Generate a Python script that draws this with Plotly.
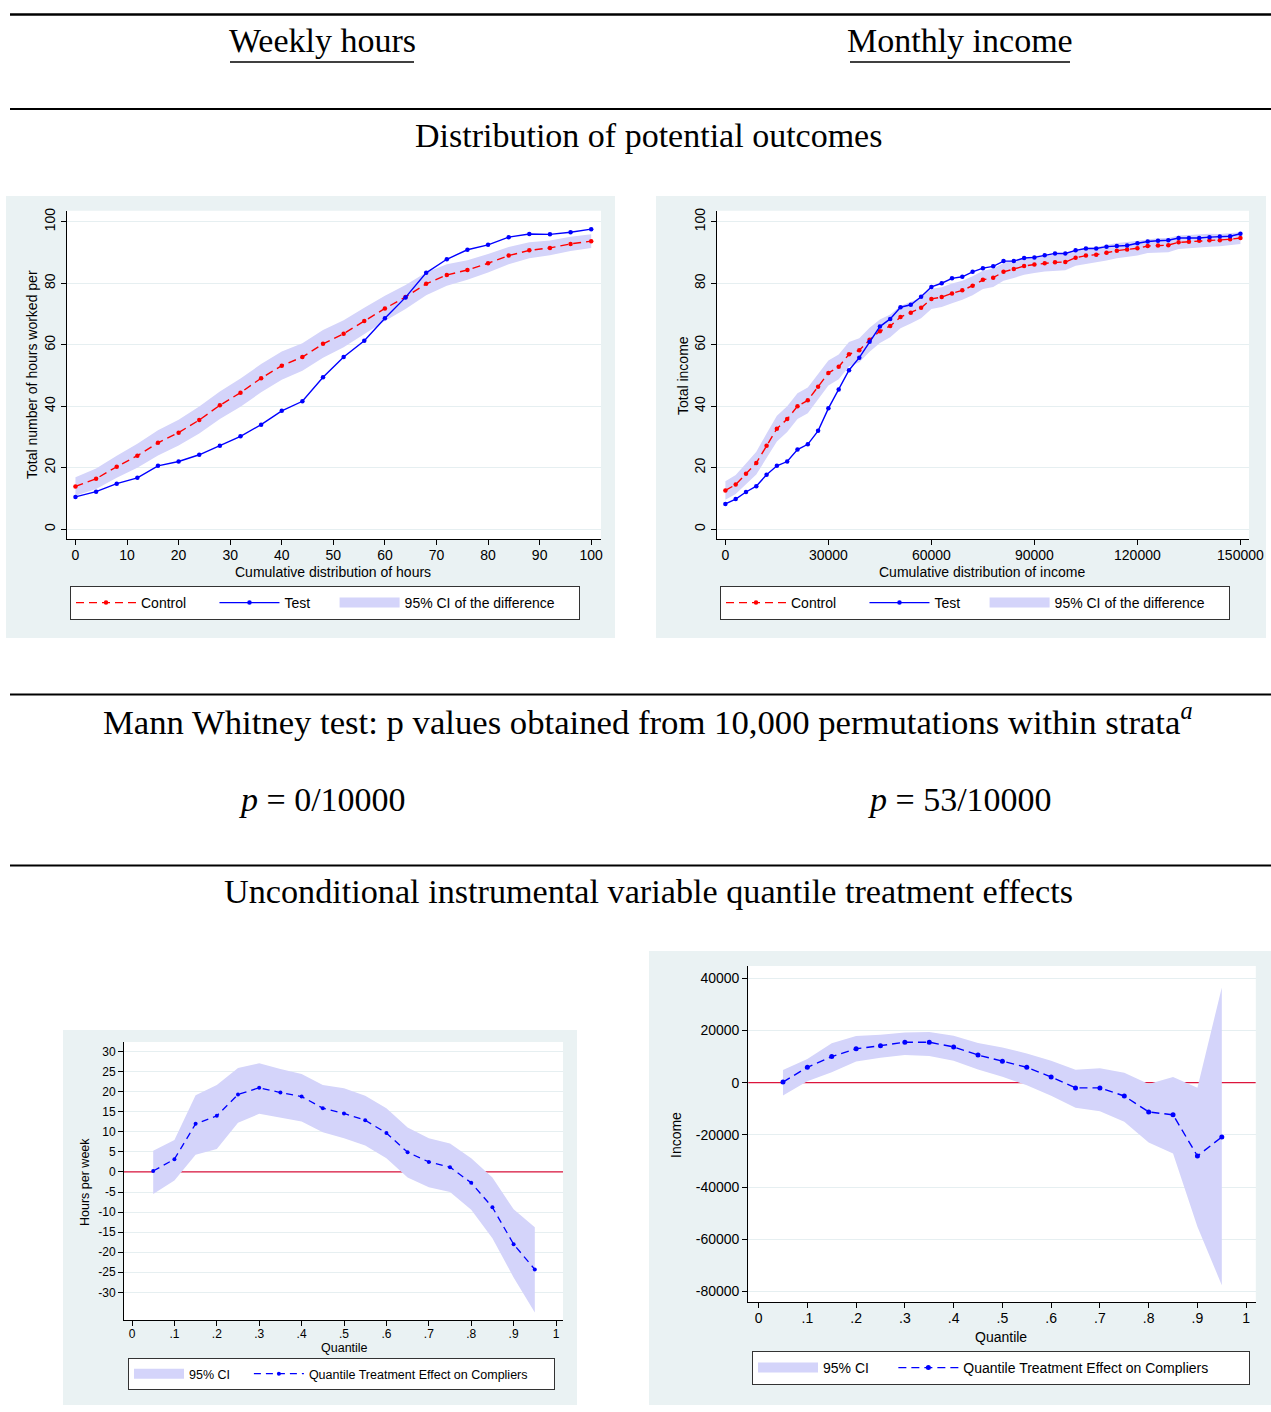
import plotly.graph_objects as go

RW, H = 1271, 1412      # reference layout size (pixel coordinates below refer to it)
W = 1286                # page width: the capture is 15px wider than the visible figure area

# ---------------- DATA ----------------
hours_x = [0, 4, 8, 12, 16, 20, 24, 28, 32, 36, 40, 44, 48, 52, 56, 60, 64, 68, 72, 76, 80, 84, 88, 92, 96, 100]
hours_control = [13.9, 16.4, 20.3, 23.9, 28.1, 31.4, 35.5, 40.3, 44.4, 49.1, 53.2, 56.0, 60.3, 63.6, 67.7, 71.8,
                 75.5, 79.8, 82.7, 84.3, 86.5, 89.0, 90.7, 91.5, 92.8, 93.7]
hours_test = [10.5, 12.2, 14.8, 16.7, 20.6, 22.0, 24.2, 27.1, 30.2, 34.0, 38.5, 41.6, 49.4, 56.0, 61.3, 68.6,
              75.4, 83.4, 87.8, 90.9, 92.5, 95.0, 96.0, 95.9, 96.6, 97.6]
hours_ci_lo = [10.9, 13.1, 16.7, 20.0, 24.0, 27.2, 31.1, 35.8, 39.8, 44.5, 48.6, 51.5, 55.8, 59.2, 63.4, 67.7,
               71.6, 76.1, 79.2, 81.1, 83.5, 86.2, 88.1, 89.1, 90.5, 91.5]
hours_ci_hi = [16.9, 19.7, 23.9, 27.8, 32.2, 35.6, 39.9, 44.8, 49.0, 53.7, 57.8, 60.5, 64.8, 68.0, 72.0, 75.9,
               79.4, 83.5, 86.2, 87.5, 89.5, 91.8, 93.3, 93.9, 95.1, 95.9]

income_x = [0, 3000, 6000, 9000, 12000, 15000, 18000, 21000, 24000, 27000, 30000, 33000, 36000, 39000, 42000,
            45000, 48000, 51000, 54000, 57000, 60000, 63000, 66000, 69000, 72000, 75000, 78000, 81000, 84000,
            87000, 90000, 93000, 96000, 99000, 102000, 105000, 108000, 111000, 114000, 117000, 120000, 123000,
            126000, 129000, 132000, 135000, 138000, 141000, 144000, 147000, 150000]
income_control = [12.6, 14.5, 18.0, 21.5, 27.1, 32.7, 35.8, 40.0, 41.9, 46.3, 50.8, 52.8, 56.9, 58.2, 61.6,
                  64.4, 66.1, 69.0, 70.4, 72.0, 74.9, 75.5, 76.7, 77.7, 79.2, 81.1, 81.8, 83.7, 84.6, 85.6,
                  86.1, 86.5, 86.8, 86.9, 88.3, 89.0, 89.3, 89.9, 90.6, 91.0, 91.4, 92.1, 92.3, 92.4, 93.3,
                  93.5, 93.8, 94.0, 94.0, 94.3, 94.7]
income_test = [8.2, 9.8, 12.1, 14.0, 17.7, 20.6, 22.0, 25.9, 27.6, 32.0, 39.3, 45.4, 51.7, 55.8, 61.0,
               65.9, 68.4, 72.2, 73.0, 75.6, 78.8, 80.0, 81.6, 82.1, 83.7, 84.9, 85.5, 87.2, 87.2, 88.2,
               88.4, 89.1, 89.7, 89.7, 90.7, 91.3, 91.3, 91.9, 92.1, 92.3, 93.0, 93.6, 93.8, 94.0, 94.7,
               94.7, 94.7, 95.0, 95.2, 95.3, 96.1]
income_ci_half = [3.0, 3.1, 3.4, 3.7, 4.0, 4.2, 4.2, 4.2, 4.2, 4.2, 4.1, 4.0, 4.0, 3.9, 3.9,
                  3.8, 3.7, 3.6, 3.5, 3.4, 3.3, 3.2, 3.2, 3.1, 3.1, 3.0, 3.0, 2.9, 2.9, 2.8,
                  2.8, 2.7, 2.7, 2.7, 2.6, 2.6, 2.5, 2.5, 2.5, 2.4, 2.4, 2.3, 2.3, 2.3, 2.2,
                  2.2, 2.1, 2.1, 2.0, 2.0, 1.9]

quantiles = [0.05, 0.10, 0.15, 0.20, 0.25, 0.30, 0.35, 0.40, 0.45, 0.50, 0.55, 0.60, 0.65, 0.70, 0.75, 0.80,
             0.85, 0.90, 0.95]
qte_hours = [0.25, 3.2, 12.0, 14.0, 19.3, 21.0, 19.8, 18.8, 15.9, 14.6, 12.9, 9.7, 4.9, 2.5, 1.2, -2.7, -8.8,
             -18.0, -24.3]
qte_hours_hi = [5.3, 8.0, 19.1, 21.7, 25.9, 27.1, 25.7, 24.4, 21.7, 20.9, 19.0, 15.9, 11.1, 8.4, 7.1, 3.4, -1.4,
                -9.3, -13.8]
qte_hours_lo = [-5.5, -2.1, 4.3, 5.7, 12.3, 14.5, 13.6, 12.6, 9.9, 8.4, 6.6, 3.4, -1.4, -3.8, -5.0, -9.4, -16.5,
                -26.3, -35.0]

qte_income = [250, 5900, 10000, 13000, 14200, 15500, 15500, 13700, 10600, 8200, 5900, 2200, -2000, -2000,
              -5100, -11200, -12300, -28100, -20800]
qte_income_hi = [4900, 9100, 15100, 17900, 18400, 19200, 19400, 18000, 15200, 13500, 11200, 8400, 5000, 5500,
                 3800, -500, 2200, -1900, 36500]
qte_income_lo = [-4900, 600, 4000, 8100, 9600, 10600, 10200, 8400, 5100, 2300, -1000, -5000, -9600, -10900,
                 -15000, -22900, -27100, -55200, -77600]

hours_xticks = [0, 10, 20, 30, 40, 50, 60, 70, 80, 90, 100]
income_xticks = [0, 30000, 60000, 90000, 120000, 150000]
top_yticks = [0, 20, 40, 60, 80, 100]
q_ticks = [0, 0.1, 0.2, 0.3, 0.4, 0.5, 0.6, 0.7, 0.8, 0.9, 1]
q_ticklabels = ["0", ".1", ".2", ".3", ".4", ".5", ".6", ".7", ".8", ".9", "1"]
qh_yticks = [30, 25, 20, 15, 10, 5, 0, -5, -10, -15, -20, -25, -30]
qi_yticks = [40000, 20000, 0, -20000, -40000, -60000, -80000]

# ---------------- STYLE ----------------
RED = "#FF0000"
BLUE = "#0000FF"
BAND = "#D4D4FA"
ZERO = "#DC143C"
BG = "#EAF2F3"
GRID = "#E6EFF1"
SANS = "Liberation Sans"
SERIF = "Liberation Serif"
NB = "\u00a0"


def fx(px):
    return px / RW


def fy(py):
    return 1 - py / H


fig = go.Figure()


def band(xs, lo, hi, xa, ya):
    fig.add_trace(go.Scatter(
        x=list(xs) + list(xs)[::-1], y=list(hi) + list(lo)[::-1],
        fill="toself", fillcolor=BAND, line=dict(width=0, color=BAND), mode="lines",
        xaxis=xa, yaxis=ya, showlegend=False, hoverinfo="skip"))


def band_key(name, xa, ya, leg, rank):
    fig.add_trace(go.Scatter(x=[None], y=[None], mode="lines", line=dict(color=BAND, width=16),
                             name=name, xaxis=xa, yaxis=ya, legend=leg, legendrank=rank))


# Panel 1: hours distribution
band(hours_x, hours_ci_lo, hours_ci_hi, "x", "y")
fig.add_trace(go.Scatter(x=hours_x, y=hours_control, mode="lines+markers", name="Control" + NB * 6,
                         line=dict(color=RED, width=1.4, dash="8px,5px"), marker=dict(color=RED, size=4.5),
                         xaxis="x", yaxis="y", legend="legend", legendrank=1))
fig.add_trace(go.Scatter(x=hours_x, y=hours_test, mode="lines+markers", name="Test" + NB * 5,
                         line=dict(color=BLUE, width=1.4), marker=dict(color=BLUE, size=4.5),
                         xaxis="x", yaxis="y", legend="legend", legendrank=2))
band_key("95% CI of the difference" + NB * 5, "x", "y", "legend", 3)

# Panel 2: income distribution
inc_lo = [c - h for c, h in zip(income_control, income_ci_half)]
inc_hi = [c + h for c, h in zip(income_control, income_ci_half)]
band(income_x, inc_lo, inc_hi, "x2", "y2")
fig.add_trace(go.Scatter(x=income_x, y=income_control, mode="lines+markers", name="Control" + NB * 6,
                         line=dict(color=RED, width=1.4, dash="8px,5px"), marker=dict(color=RED, size=4.5),
                         xaxis="x2", yaxis="y2", legend="legend2", legendrank=1))
fig.add_trace(go.Scatter(x=income_x, y=income_test, mode="lines+markers", name="Test" + NB * 5,
                         line=dict(color=BLUE, width=1.4), marker=dict(color=BLUE, size=4.5),
                         xaxis="x2", yaxis="y2", legend="legend2", legendrank=2))
band_key("95% CI of the difference" + NB * 5, "x2", "y2", "legend2", 3)

# Panel 3: QTE hours
fig.add_trace(go.Scatter(x=[-0.0189, 1.0165], y=[0, 0], mode="lines", line=dict(color=ZERO, width=1.3),
                         xaxis="x3", yaxis="y3", showlegend=False, hoverinfo="skip"))
band(quantiles, qte_hours_lo, qte_hours_hi, "x3", "y3")
band_key("95% CI" + NB * 4, "x3", "y3", "legend3", 1)
fig.add_trace(go.Scatter(x=quantiles, y=qte_hours, mode="lines+markers",
                         name="Quantile Treatment Effect on Compliers" + NB * 6,
                         line=dict(color=BLUE, width=1.3, dash="7px,5px"), marker=dict(color=BLUE, size=4),
                         xaxis="x3", yaxis="y3", legend="legend3", legendrank=2))

# Panel 4: QTE income
fig.add_trace(go.Scatter(x=[-0.0213, 1.0197], y=[0, 0], mode="lines", line=dict(color=ZERO, width=1.3),
                         xaxis="x4", yaxis="y4", showlegend=False, hoverinfo="skip"))
band(quantiles, qte_income_lo, qte_income_hi, "x4", "y4")
band_key("95% CI" + NB * 5, "x4", "y4", "legend4", 1)
fig.add_trace(go.Scatter(x=quantiles, y=qte_income, mode="lines+markers",
                         name="Quantile Treatment Effect on Compliers" + NB * 9,
                         line=dict(color=BLUE, width=1.4, dash="8px,5px"), marker=dict(color=BLUE, size=5),
                         xaxis="x4", yaxis="y4", legend="legend4", legendrank=2))


def xax(l, r, rng, ticks, labels, size, anchor, stand):
    return dict(domain=[fx(l), fx(r)], range=rng, tickmode="array", tickvals=ticks, ticktext=labels,
                showgrid=False, zeroline=False, showline=True, linecolor="#000", linewidth=1,
                ticks="outside", ticklen=5, tickcolor="#000", tickfont=dict(family=SANS, size=size, color="#000"),
                ticklabelstandoff=stand, anchor=anchor, fixedrange=True)


def yax(t, b, rng, ticks, labels, size, anchor, angle):
    return dict(domain=[fy(b), fy(t)], range=rng, tickmode="array", tickvals=ticks, ticktext=labels,
                showgrid=True, gridcolor=GRID, gridwidth=1, zeroline=False, showline=True, linecolor="#000",
                linewidth=1, ticks="outside", ticklen=5, tickcolor="#000", tickangle=angle,
                tickfont=dict(family=SANS, size=size, color="#000"), anchor=anchor, fixedrange=True)


fig.update_layout(
    xaxis=xax(66.7, 601, [-1.7, 101.9], hours_xticks, [str(v) for v in hours_xticks], 14, "y", -2),
    yaxis=yax(210.7, 539, [-3.2, 103.6], top_yticks, [str(v) for v in top_yticks], 14, "x", -90),
    xaxis2=xax(716.7, 1249, [-2530, 152500], income_xticks, [str(v) for v in income_xticks], 14, "y2", -2),
    yaxis2=yax(210.7, 539, [-3.2, 103.6], top_yticks, [str(v) for v in top_yticks], 14, "x2", -90),
    xaxis3=xax(124, 563, [-0.0189, 1.0165], q_ticks, q_ticklabels, 12, "y3", -2),
    yaxis3=yax(1042, 1320, [-36.9, 32.4], qh_yticks, [str(v) for v in qh_yticks], 12, "x3", 0),
    xaxis4=xax(748.2, 1255.8, [-0.0213, 1.0197], q_ticks, q_ticklabels, 14, "y4", -2),
    yaxis4=yax(966, 1302.3, [-84140, 44710], qi_yticks, [str(v) for v in qi_yticks], 14, "x4", 0),
)


def leg(lx, cy, size, iw):
    return dict(x=fx(lx), y=fy(cy), xanchor="left", yanchor="middle", orientation="h",
                bgcolor="white", bordercolor="#333", borderwidth=1, itemwidth=iw,
                font=dict(family=SANS, size=size, color="#000"), traceorder="normal", itemclick=False,
                itemdoubleclick=False)


fig.update_layout(
    legend=leg(70, 603, 14, 60),
    legend2=leg(720, 603, 14, 60),
    legend3=leg(128, 1374, 12.5, 50),
    legend4=leg(752, 1368, 14, 60),
)

shapes = []
# panel backgrounds
for (l, t, r, b), (pl, pt, pr, pb) in [
    ((6, 196, 615, 638), (66.7, 210.7, 601, 539)),
    ((656, 196, 1266, 638), (716.7, 210.7, 1249, 539)),
    ((63, 1030, 577, 1405), (124, 1042, 563, 1320)),
    ((649, 951, 1271, 1405), (748.2, 966, 1255.8, 1302.3)),
]:
    shapes.append(dict(type="rect", xref="paper", yref="paper", x0=fx(l), x1=fx(r), y0=fy(b), y1=fy(t),
                       fillcolor=BG, line=dict(width=0), layer="below"))
    shapes.append(dict(type="rect", xref="paper", yref="paper", x0=fx(pl), x1=fx(pr), y0=fy(pb), y1=fy(pt),
                       fillcolor="white", line=dict(width=0), layer="below"))
# horizontal rules
for py, wdt in [(14.5, 2.6), (109, 2), (694.5, 2), (865.5, 2)]:
    shapes.append(dict(type="line", xref="paper", yref="paper", x0=fx(10), x1=1, y0=fy(py), y1=fy(py),
                       line=dict(color="#000", width=wdt)))
# underlines
for l, r in [(230, 414), (850, 1070)]:
    shapes.append(dict(type="line", xref="paper", yref="paper", x0=fx(l), x1=fx(r), y0=fy(62), y1=fy(62),
                       line=dict(color="#000", width=1.5)))
fig.update_layout(shapes=shapes)

ann = []


def text(s, cx, cy, size, family, angle=0):
    ann.append(dict(text=s, x=fx(cx), y=fy(cy), xref="paper", yref="paper", showarrow=False,
                    xanchor="center", yanchor="middle", textangle=angle,
                    font=dict(family=family, size=size, color="#000")))


text("Weekly hours", 322, 41, 34, SERIF)
text("Monthly income", 960, 41, 34, SERIF)
text("Distribution of potential outcomes", 648, 135, 34, SERIF)
text("Mann Whitney test: p values obtained from 10,000 permutations within strata<sup><i>a</i></sup>",
     648, 719, 34.7, SERIF)
text("<i>p</i> = 0/10000", 322, 799, 34, SERIF)
text("<i>p</i> = 53/10000", 960, 799, 34, SERIF)
text("Unconditional instrumental variable quantile treatment effects", 648, 891, 34.2, SERIF)

text("Cumulative distribution of hours", 333, 572, 14, SANS)
text("Total number of hours worked per", 32, 375, 14, SANS, -90)
text("Cumulative distribution of income", 982, 572, 14, SANS)
text("Total income", 683, 376, 14, SANS, -90)
text("Quantile", 344, 1348, 12.5, SANS)
text("Hours per week", 85, 1182, 12.5, SANS, -90)
text("Quantile", 1001, 1337, 14, SANS)
text("Income", 676, 1135, 14, SANS, -90)
fig.update_layout(annotations=ann)

# plot area spans the reference width; the extra page width on the right stays blank
fig.update_layout(width=W, height=H, margin=dict(l=0, r=W - RW, t=0, b=0, autoexpand=False),
                  paper_bgcolor="white", plot_bgcolor="rgba(0,0,0,0)", showlegend=True, hovermode=False)

fig.write_html("out.html", config={"displayModeBar": False},
               post_script="document.documentElement.style.overflow='hidden';"
                           "document.body.style.margin='0';document.body.style.overflow='hidden';")
